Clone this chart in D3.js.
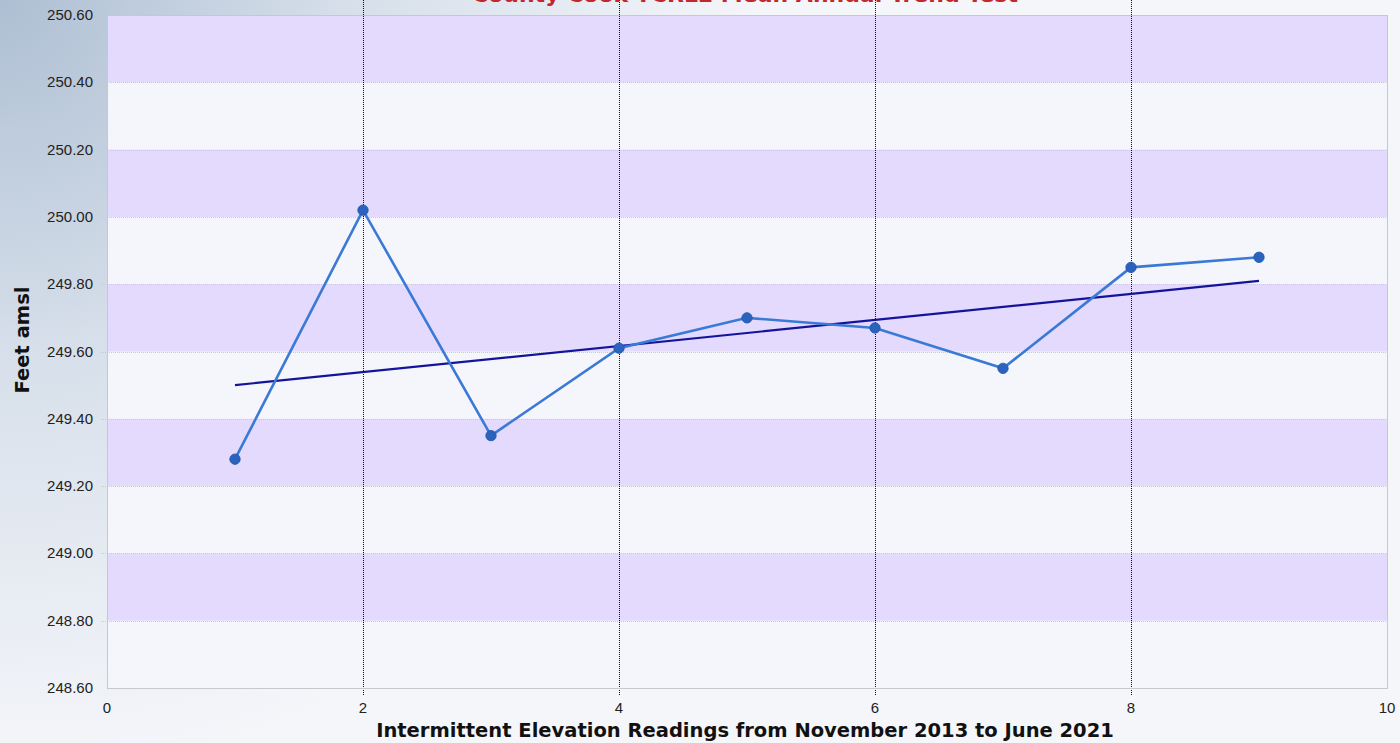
<!DOCTYPE html>
<html><head><meta charset="utf-8">
<script src="https://cdn.jsdelivr.net/npm/d3@7"></script>
<style>html,body{margin:0;padding:0;overflow:hidden;}svg{display:block;}</style>
</head><body>
<script>
const readings = [1,2,3,4,5,6,7,8,9];
const elevations = [249.28,250.02,249.35,249.61,249.70,249.67,249.55,249.85,249.88];
const trendX = [1,9];
const trendY = [249.50,249.81];
const xTicks = [0,2,4,6,8,10];
const yTicks = [248.6,248.8,249.0,249.2,249.4,249.6,249.8,250.0,250.2,250.4,250.6];
const bandStarts = [248.8,249.2,249.6,250.0,250.4];
const titleText = "County Cook TCRL2 Mean Annual Trend Test";
const xTitle = "Intermittent Elevation Readings from November 2013 to June 2021";
const yTitle = "Feet amsl";

const W=1400,H=743;
const m={l:107,r:1387,t:15,b:688};
const svg=d3.select("body").append("svg").attr("width",W).attr("height",H);
const defs=svg.append("defs");
const g=defs.append("radialGradient").attr("id","bg").attr("cx","0").attr("cy","0").attr("r","0.55").attr("gradientUnits","objectBoundingBox")
  .attr("gradientTransform","scale(1,1.9)");
g.append("stop").attr("offset","0").attr("stop-color","#aebfd3");
g.append("stop").attr("offset","0.45").attr("stop-color","#d6dfea");
g.append("stop").attr("offset","1").attr("stop-color","#f5f6fa");
svg.append("rect").attr("width",W).attr("height",H).attr("fill","#f5f6fa");
svg.append("rect").attr("width",W).attr("height",H).attr("fill","url(#bg)");

const x=d3.scaleLinear().domain([0,10]).range([m.l,m.r]);
const y=d3.scaleLinear().domain([248.6,250.6]).range([m.b,m.t]);

svg.append("rect").attr("x",m.l).attr("y",m.t).attr("width",m.r-m.l).attr("height",m.b-m.t).attr("fill","#f5f6fb");
svg.selectAll("rect.band").data(bandStarts).enter().append("rect").attr("class","band")
  .attr("x",m.l).attr("width",m.r-m.l).attr("y",d=>y(d+0.2)).attr("height",d=>y(d)-y(d+0.2)).attr("fill","#e3dafd");

svg.selectAll("line.hg").data(yTicks.slice(1,-1)).enter().append("line")
  .attr("x1",m.l-6).attr("x2",m.r).attr("y1",d=>Math.round(y(d))+0.5).attr("y2",d=>Math.round(y(d))+0.5)
  .attr("stroke","#c9c9d6").attr("stroke-width",1).attr("stroke-dasharray","1,1");
svg.selectAll("line.vg").data(xTicks.slice(1,-1)).enter().append("line")
  .attr("x1",d=>Math.round(x(d))+0.5).attr("x2",d=>Math.round(x(d))+0.5).attr("y1",0).attr("y2",m.b+8)
  .attr("stroke","#111").attr("stroke-width",1).attr("stroke-dasharray","1,1");

svg.append("rect").attr("x",m.l+0.5).attr("y",m.t+0.5).attr("width",m.r-m.l).attr("height",m.b-m.t)
  .attr("fill","none").attr("stroke","#c8c8cc");

const tf="'Liberation Sans',Arial,sans-serif";
const bf="'DejaVu Sans',Verdana,sans-serif";
svg.selectAll("text.yt").data(yTicks).enter().append("text")
  .attr("x",93).attr("y",d=>y(d)+5).attr("text-anchor","end").attr("font-family",tf).attr("font-size",15)
  .attr("fill","#222").text(d=>d3.format(".2f")(d));
svg.selectAll("text.xt").data(xTicks).enter().append("text")
  .attr("x",d=>x(d)).attr("y",713).attr("text-anchor","middle").attr("font-family",tf).attr("font-size",15)
  .attr("fill","#222").text(d=>d);

svg.append("text").attr("x",745).attr("y",737).attr("text-anchor","middle").attr("font-family",bf)
  .attr("font-weight","bold").attr("font-size",19.5).attr("fill","#111").text(xTitle);
svg.append("text").attr("transform","translate(29,340) rotate(-90)").attr("text-anchor","middle").attr("font-family",bf)
  .attr("font-weight","bold").attr("font-size",19.5).attr("fill","#111").text(yTitle);
svg.append("text").attr("x",745).attr("y",2).attr("text-anchor","middle").attr("font-family",bf)
  .attr("font-weight","bold").attr("font-size",22).attr("fill","#c0282c").text(titleText);

svg.append("line").attr("x1",x(trendX[0])).attr("y1",y(trendY[0])).attr("x2",x(trendX[1])).attr("y2",y(trendY[1]))
  .attr("stroke","#14149a").attr("stroke-width",2.2);

const pts=readings.map((r,i)=>[r,elevations[i]]);
svg.append("path").datum(pts).attr("d",d3.line().x(d=>x(d[0])).y(d=>y(d[1])))
  .attr("fill","none").attr("stroke","#3a7ad6").attr("stroke-width",2.6);
svg.selectAll("circle.pt").data(pts).enter().append("circle")
  .attr("cx",d=>x(d[0])).attr("cy",d=>y(d[1])).attr("r",5.2).attr("fill","#2a62bd").attr("stroke","#1f56ab").attr("stroke-width",0.8);
</script>
</body></html>
